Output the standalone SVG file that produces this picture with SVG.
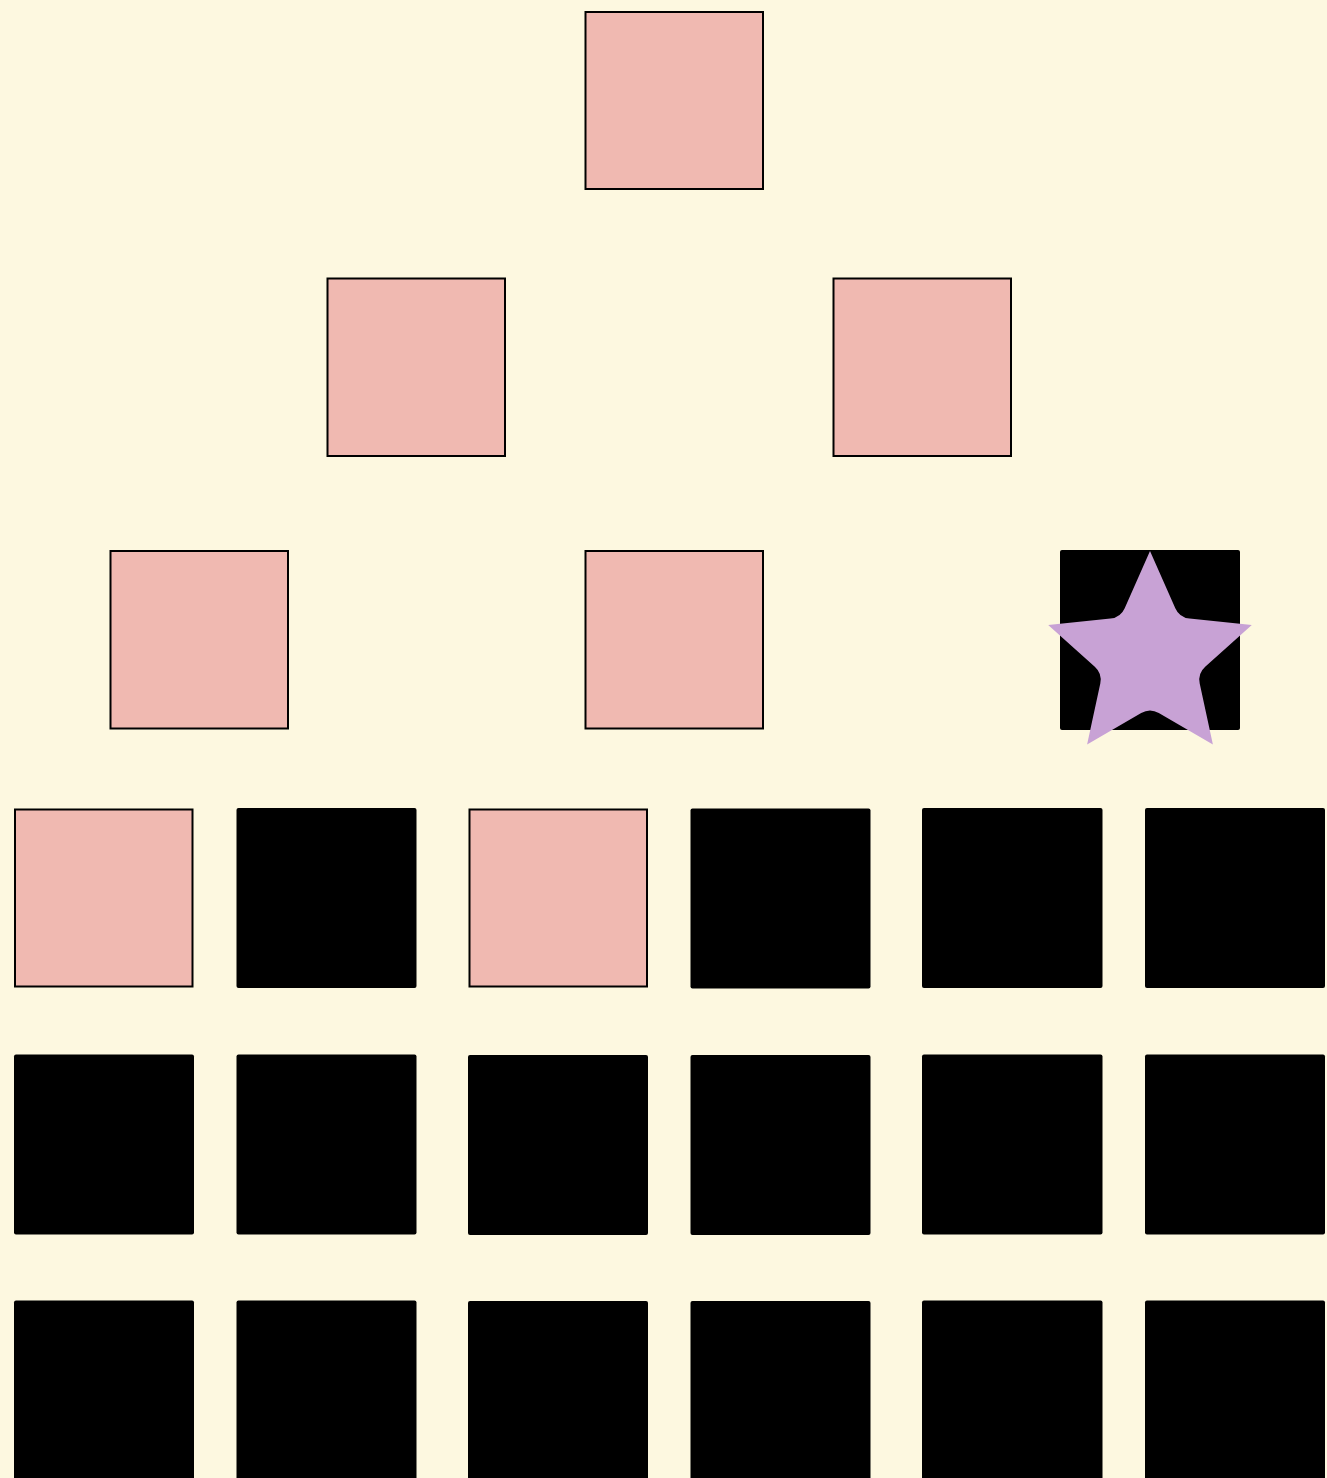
<svg xmlns="http://www.w3.org/2000/svg" width="1327" height="1478" viewBox="0 0 1327 1478">
<style>
.p{fill:#f0b9b1;stroke:#000;stroke-width:2}
.b{fill:#000}
.s{fill:#c8a2d5}
</style>
<rect width="1327" height="1478" fill="#fdf8e0"/>
<g id="n1"><rect class="p" x="585.5" y="12" width="177.5" height="177"/></g>
<g id="n2"><rect class="p" x="327.5" y="278.5" width="177.5" height="177.5"/></g>
<g id="n3"><rect class="p" x="833.5" y="278.5" width="177.5" height="177.5"/></g>
<g id="n4"><rect class="p" x="110.5" y="551" width="177.5" height="177.5"/></g>
<g id="n5"><rect class="p" x="585.5" y="551" width="177.5" height="177.5"/></g>
<g id="n6"><rect class="b" x="1060" y="550" width="180" height="180" rx="2"/>
<path class="s" d="M1150,551 L1175.3,608.2 Q1179.4,617.5 1189.5,618.5 L1251.8,624.9 L1205.2,666.7 Q1197.6,673.5 1199.7,683.5 L1212.9,744.6 L1158.8,713.1 Q1150,708 1141.2,713.1 L1087.1,744.6 L1100.3,683.5 Q1102.4,673.5 1094.8,666.7 L1048.2,624.9 L1110.5,618.5 Q1120.6,617.5 1124.7,608.2 Z"/></g>
<g id="r4">
<rect class="p" x="15" y="809.5" width="177.5" height="177"/>
<rect class="b" x="236.5" y="808" width="180" height="180" rx="2"/>
<rect class="p" x="469.5" y="809.5" width="177.5" height="177"/>
<rect class="b" x="690.5" y="808.5" width="180" height="180" rx="2"/>
<rect class="b" x="922" y="808" width="180.5" height="180" rx="2"/>
<rect class="b" x="1145" y="808" width="180" height="180" rx="2"/>
</g>
<g id="r5">
<rect class="b" x="14" y="1054.5" width="180" height="180" rx="2"/>
<rect class="b" x="236.5" y="1054.5" width="180" height="180" rx="2"/>
<rect class="b" x="468" y="1055" width="180" height="180" rx="2"/>
<rect class="b" x="690.5" y="1055" width="180" height="180" rx="2"/>
<rect class="b" x="922" y="1054.5" width="180.5" height="180" rx="2"/>
<rect class="b" x="1145" y="1054.5" width="180" height="180" rx="2"/>
</g>
<g id="r6">
<rect class="b" x="14" y="1300.5" width="180" height="190" rx="2"/>
<rect class="b" x="236.5" y="1300.5" width="180" height="190" rx="2"/>
<rect class="b" x="468" y="1301" width="180" height="190" rx="2"/>
<rect class="b" x="690.5" y="1301" width="180" height="190" rx="2"/>
<rect class="b" x="922" y="1300.5" width="180.5" height="190" rx="2"/>
<rect class="b" x="1145" y="1300.5" width="180" height="190" rx="2"/>
</g>
<g id="connectors"></g>
</svg>
